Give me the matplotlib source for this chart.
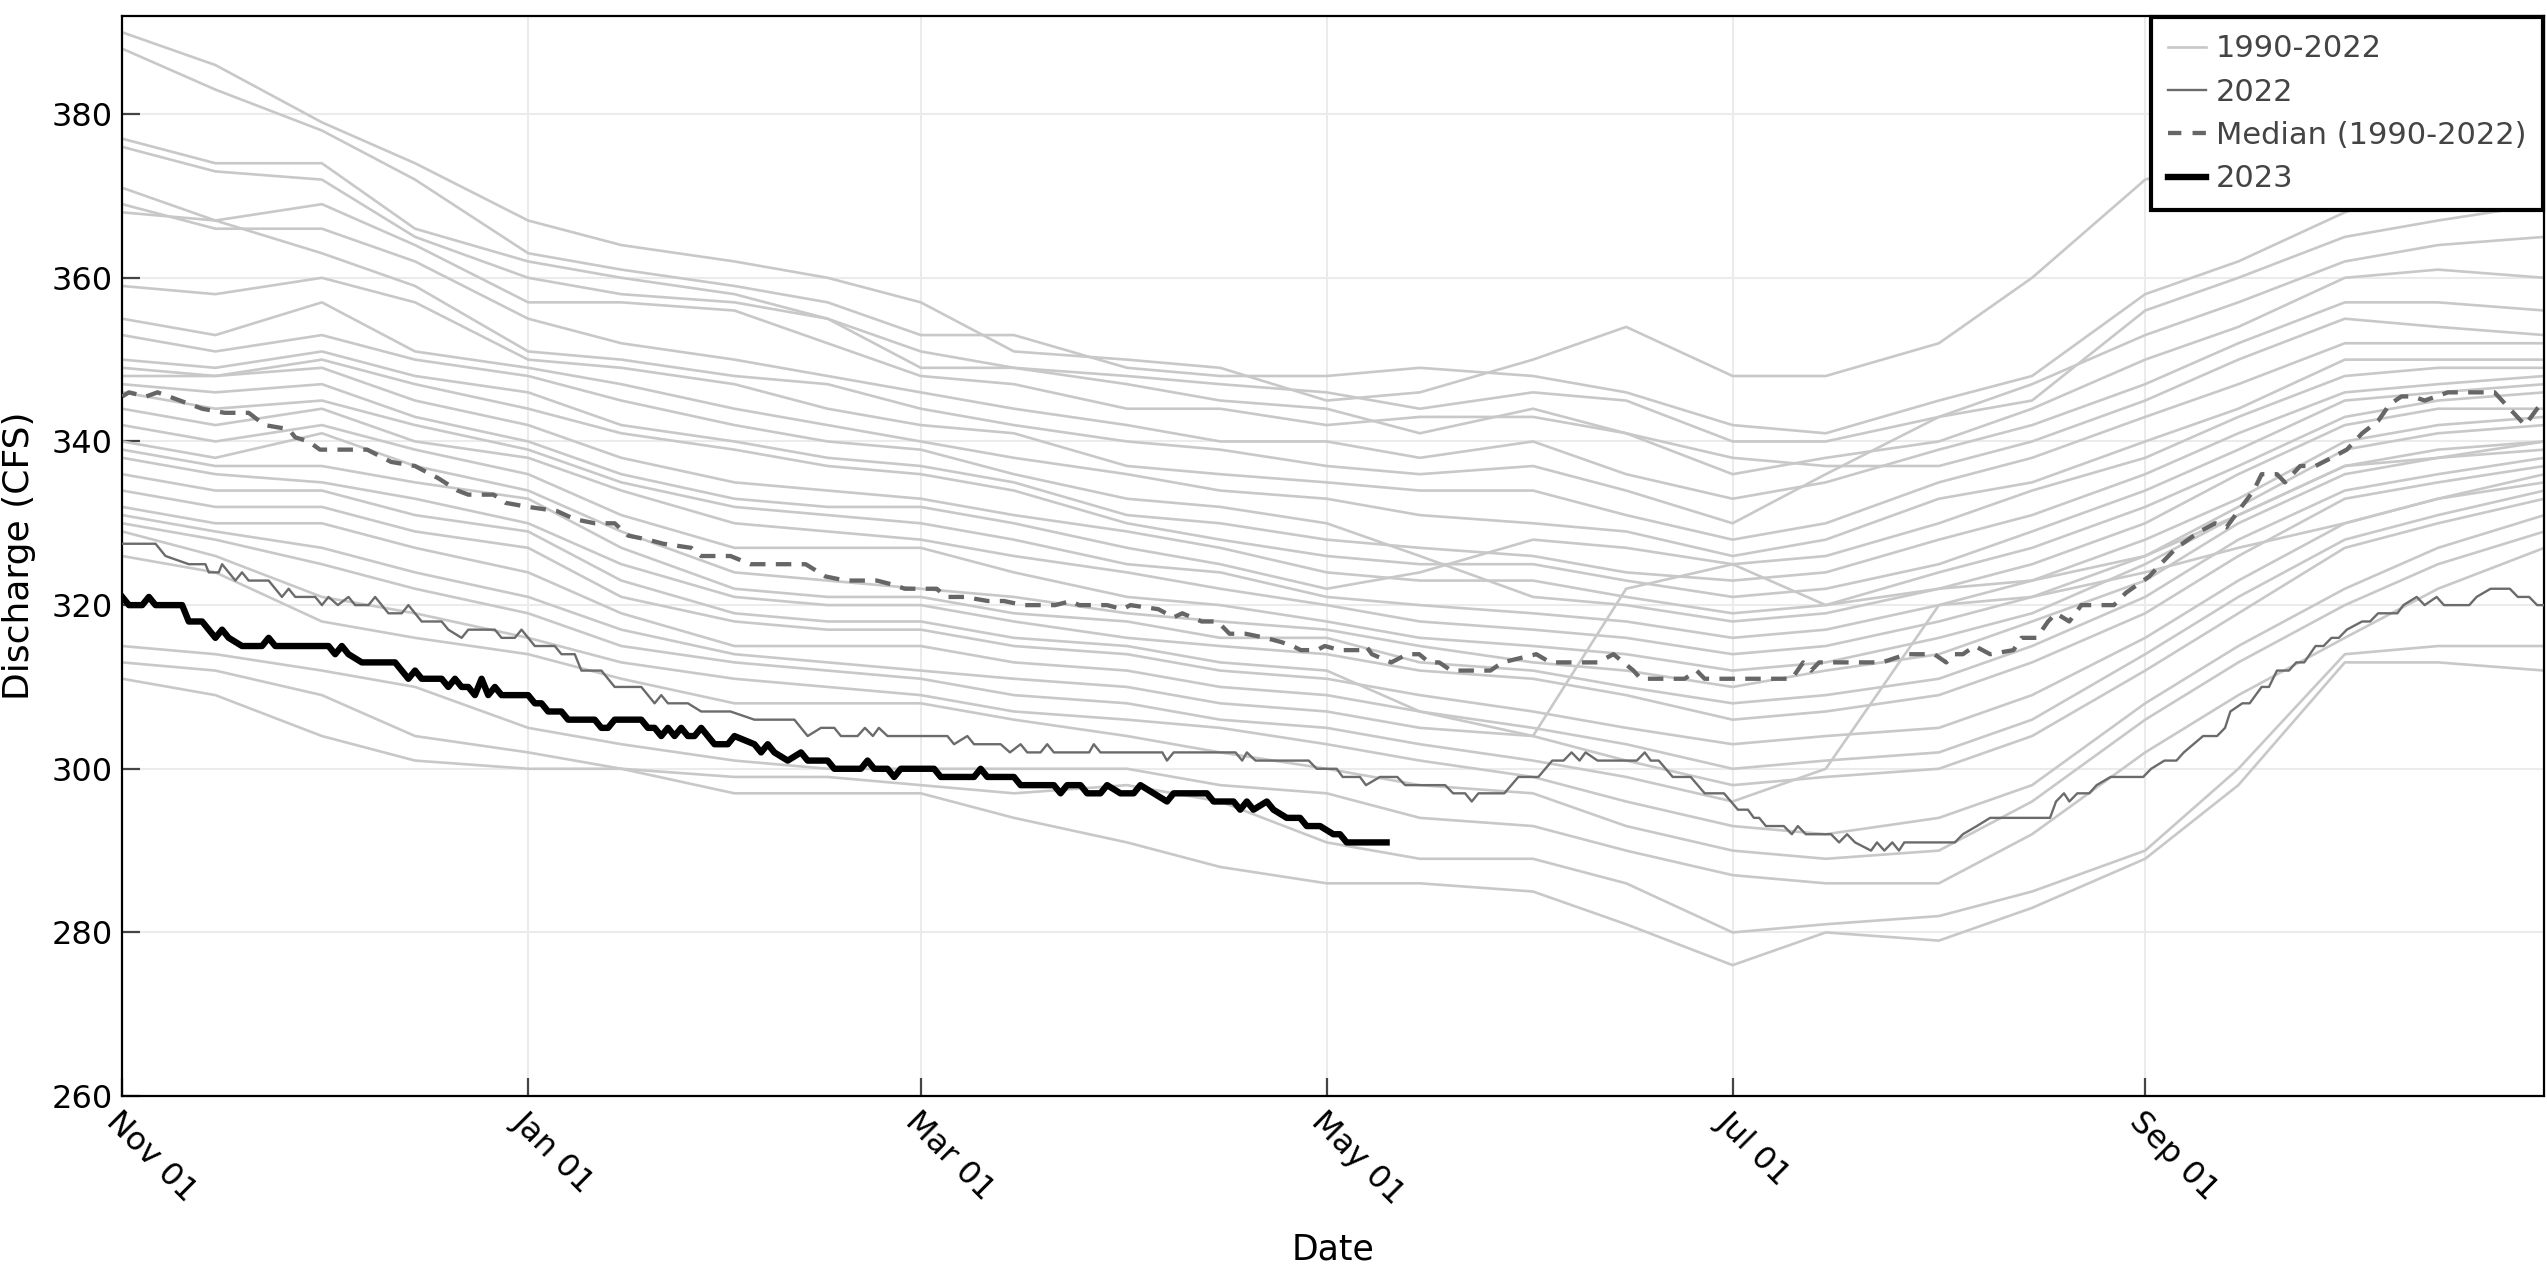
import numpy as np
import matplotlib
matplotlib.use("Agg")
import matplotlib.pyplot as plt
import matplotlib.dates as mdates
from matplotlib.lines import Line2D
from datetime import datetime

start = datetime(2022, 11, 1)

# knot dates for the historical traces (1st and 15th of each month of the water year)
knot_dates = ['2022-11-01', '2022-11-15', '2022-12-01', '2022-12-15', '2023-01-01',
              '2023-01-15', '2023-02-01', '2023-02-15', '2023-03-01', '2023-03-15',
              '2023-04-01', '2023-04-15', '2023-05-01', '2023-05-15', '2023-06-01',
              '2023-06-15', '2023-07-01', '2023-07-15', '2023-08-01', '2023-08-15',
              '2023-09-01', '2023-09-15', '2023-10-01', '2023-10-15', '2023-10-31']

# historical years 1990-2022, discharge read at each knot date
hist_01 = [390, 386, 379, 374, 367, 364, 362, 360, 357, 351, 350, 349, 345, 346, 350, 354, 348, 348, 352, 360, 372, 375, 378, 382, 385]
hist_02 = [388, 383, 378, 372, 363, 361, 359, 357, 353, 353, 349, 348, 348, 349, 348, 346, 342, 341, 345, 348, 358, 362, 368, 372, 375]
hist_03 = [377, 374, 374, 366, 362, 360, 358, 355, 351, 349, 348, 347, 346, 344, 346, 345, 340, 340, 343, 345, 356, 360, 365, 367, 369]
hist_04 = [376, 373, 372, 365, 360, 358, 357, 355, 349, 349, 347, 345, 344, 341, 344, 341, 338, 337, 337, 340, 345, 350, 355, 354, 353]
hist_05 = [371, 367, 369, 364, 357, 357, 356, 352, 348, 347, 344, 344, 342, 343, 343, 341, 336, 338, 340, 344, 350, 354, 360, 361, 360]
hist_06 = [369, 366, 366, 362, 355, 352, 350, 348, 346, 344, 342, 340, 340, 338, 340, 336, 333, 335, 339, 342, 347, 352, 357, 357, 356]
hist_07 = [368, 367, 363, 359, 351, 350, 348, 347, 344, 342, 340, 339, 337, 336, 337, 334, 330, 336, 343, 347, 353, 357, 362, 364, 365]
hist_08 = [359, 358, 360, 357, 350, 349, 347, 344, 342, 341, 337, 336, 335, 334, 334, 331, 328, 330, 335, 338, 343, 347, 352, 352, 352]
hist_09 = [355, 353, 357, 351, 349, 347, 344, 342, 340, 338, 336, 334, 333, 331, 330, 329, 326, 328, 333, 335, 340, 344, 350, 350, 350]
hist_10 = [353, 351, 353, 350, 348, 345, 342, 340, 339, 336, 333, 332, 330, 326, 321, 320, 318, 319, 322, 325, 330, 336, 342, 344, 344]
hist_11 = [350, 349, 351, 348, 346, 342, 340, 338, 337, 335, 331, 330, 328, 327, 326, 324, 323, 324, 328, 331, 336, 341, 346, 347, 348]
hist_12 = [349, 348, 350, 347, 344, 341, 339, 337, 336, 334, 330, 328, 326, 325, 325, 323, 321, 322, 325, 329, 334, 339, 345, 346, 347]
hist_13 = [348, 348, 349, 345, 342, 338, 335, 334, 333, 331, 329, 327, 324, 323, 323, 321, 319, 320, 324, 327, 332, 337, 343, 345, 346]
hist_14 = [347, 346, 347, 343, 340, 336, 333, 332, 332, 330, 327, 325, 322, 324, 328, 327, 325, 326, 330, 334, 338, 343, 348, 349, 349]
hist_15 = [346, 344, 345, 342, 339, 335, 332, 331, 330, 328, 325, 324, 321, 320, 319, 318, 316, 317, 320, 323, 328, 333, 340, 342, 343]
hist_16 = [344, 342, 344, 340, 338, 334, 330, 329, 328, 326, 324, 322, 320, 318, 317, 316, 314, 315, 318, 321, 326, 332, 339, 341, 342]
hist_17 = [342, 340, 342, 339, 336, 331, 327, 327, 327, 324, 321, 320, 318, 316, 315, 314, 312, 313, 316, 319, 325, 331, 337, 339, 340]
hist_18 = [340, 338, 341, 337, 334, 329, 324, 323, 322, 321, 319, 318, 317, 315, 313, 312, 310, 312, 314, 318, 323, 330, 336, 338, 339]
hist_19 = [339, 337, 337, 335, 333, 327, 322, 321, 321, 319, 318, 316, 316, 313, 312, 310, 308, 309, 311, 315, 321, 328, 334, 336, 338]
hist_20 = [338, 336, 335, 333, 330, 325, 321, 320, 320, 318, 316, 315, 314, 312, 311, 309, 306, 307, 309, 313, 319, 326, 333, 335, 337]
hist_21 = [336, 334, 334, 331, 329, 323, 319, 318, 318, 316, 315, 313, 312, 307, 304, 322, 325, 320, 322, 323, 326, 331, 337, 338, 340]
hist_22 = [334, 332, 332, 329, 327, 321, 318, 317, 317, 315, 314, 312, 311, 309, 307, 305, 303, 304, 305, 309, 316, 323, 330, 333, 335]
hist_23 = [332, 330, 330, 327, 324, 319, 315, 315, 315, 313, 312, 310, 309, 307, 305, 303, 300, 301, 302, 306, 314, 321, 328, 331, 334]
hist_24 = [331, 329, 327, 324, 321, 317, 314, 313, 312, 311, 310, 308, 307, 305, 304, 301, 298, 299, 300, 304, 312, 319, 327, 330, 333]
hist_25 = [330, 328, 325, 322, 319, 315, 313, 312, 311, 309, 308, 306, 305, 303, 301, 299, 296, 300, 320, 321, 324, 327, 330, 333, 336]
hist_26 = [329, 326, 321, 319, 316, 313, 311, 310, 309, 307, 306, 305, 303, 301, 299, 296, 293, 292, 294, 298, 308, 315, 322, 327, 331]
hist_27 = [326, 324, 318, 316, 314, 311, 308, 308, 308, 306, 304, 302, 300, 298, 297, 293, 290, 289, 290, 296, 306, 313, 320, 325, 329]
hist_28 = [315, 314, 312, 310, 305, 303, 301, 300, 300, 300, 300, 298, 297, 294, 293, 290, 287, 286, 286, 292, 302, 309, 316, 322, 327]
hist_29 = [313, 312, 309, 304, 302, 300, 299, 299, 298, 297, 298, 296, 291, 289, 289, 286, 280, 281, 282, 285, 290, 300, 314, 315, 315]
hist_30 = [311, 309, 304, 301, 300, 300, 297, 297, 297, 294, 291, 288, 286, 286, 285, 281, 276, 280, 279, 283, 289, 298, 313, 313, 312]

# water year 2022 (days after Nov 01)
days_2022 = [0, 5, 6.5, 10, 12.5, 13, 14.5, 15, 17, 18, 19, 22, 24, 25, 26, 29, 30, 31, 32.4,
             34, 35, 37, 38, 40, 42, 43, 45, 48, 49, 51, 52, 56, 57, 59, 60, 62, 65, 66, 68,
             69, 72, 74, 78, 80, 81, 82, 85, 87, 91.4, 95, 101, 103, 105, 107, 108, 110.5,
             111.6, 112.8, 113.7, 115, 124, 125, 127, 128, 132, 133.4, 135, 136, 138, 139,
             140, 145.3, 146, 147, 156.3, 157, 158, 167.3, 168.3, 169, 170.3, 178.3, 179.5,
             182.5, 183.4, 186, 186.9, 189, 191.6, 192.8, 198.8, 200, 201.8, 202.8, 203.8,
             207.7, 209.8, 212.8, 214.9, 216.6, 217.8, 219, 219.9, 221.7, 227.6, 228.8,
             229.7, 230.9, 233, 235.7, 237.8, 240.7, 242.8, 244.3, 245.2, 246, 247, 249.7,
             250.9, 251.8, 253, 256.8, 258, 259.2, 260.4, 262.8, 263.7, 264.8, 266, 267,
             267.8, 275.4, 276.6, 278.7, 280.7, 289.7, 290.6, 291.8, 292.6, 293.8, 295.6,
             296.7, 298.8, 303.7, 304.9, 306.9, 308.7, 309.8, 312.7, 314.8, 316, 316.8,
             318.6, 319.7, 321.5, 322.6, 323.8, 325.6, 326.7, 327.9, 329.6, 330.8, 332,
             333.1, 334.3, 336.6, 337.8, 339, 341.9, 342.8, 344.8, 346, 347.8, 348.9,
             352.7, 353.8, 355.9, 358.8, 360, 361.7, 362.9, 364, 364.9]
q_2022 = [327.5, 327.5, 326, 325, 325, 324, 324, 325, 323, 324, 323, 323, 321, 322, 321, 321,
          320, 321, 320, 321, 320, 320, 321, 319, 319, 320, 318, 318, 317, 316, 317, 317,
          316, 316, 317, 315, 315, 314, 314, 312, 312, 310, 310, 308, 309, 308, 308, 307,
          307, 306, 306, 304, 305, 305, 304, 304, 305, 304, 305, 304, 304, 303, 304, 303,
          303, 302, 303, 302, 302, 303, 302, 302, 303, 302, 302, 301, 302, 302, 301, 302,
          301, 301, 300, 300, 299, 299, 298, 299, 299, 298, 298, 297, 297, 296, 297, 297,
          299, 299, 301, 301, 302, 301, 302, 301, 301, 302, 301, 301, 299, 299, 297, 297,
          295, 295, 294, 294, 293, 293, 292, 293, 292, 292, 291, 292, 291, 290, 291, 290,
          291, 290, 291, 291, 292, 293, 294, 294, 296, 297, 296, 297, 297, 298, 299, 299,
          300, 301, 301, 302, 304, 304, 305, 307, 308, 308, 310, 310, 312, 312, 313, 313,
          315, 315, 316, 316, 317, 318, 318, 319, 319, 320, 321, 320, 321, 320, 320, 321,
          322, 322, 321, 321, 320, 320, 321]

# median of 1990-2022
days_med = [0, 1, 3.6, 5.3, 7, 12, 15.4, 19, 21.4, 25, 26, 28, 29.7, 36.8, 40.4, 44, 47.5,
            50.4, 52, 55.8, 57.6, 61, 65.3, 68, 71, 74, 76, 79, 81.3, 85.5, 87, 91.4, 94.4,
            102.7, 105.7, 108.7, 113.4, 115.8, 117.6, 122.4, 123.8, 126.5, 130.1, 132.5,
            135.4, 140.2, 142.6, 143.8, 148, 150.3, 151.5, 155.7, 158, 159.3, 162.2, 164.6,
            166.4, 168.8, 171.8, 174.1, 175.9, 177.1, 179.5, 180.7, 183, 186, 186.9, 187.8,
            190.7, 193.1, 194.9, 196.4, 197.9, 199.7, 205.6, 207.4, 212.5, 214.6, 221.7,
            224.1, 225.6, 227.1, 228.2, 234.8, 236.6, 237.8, 250.9, 252.6, 253.8, 255,
            264.5, 268.1, 272.3, 274.1, 275.3, 276.6, 278.4, 280.7, 284.2, 285.4, 287.7,
            289.4, 290.6, 292.6, 294.4, 299.3, 301.1, 304.6, 306.3, 308.7, 312.2, 314.5,
            316.2, 318, 320.3, 321.5, 323.8, 325, 327.3, 329.6, 332, 334.3, 336.6, 339,
            340.7, 342.5, 344.2, 346, 349.5, 356.5, 358.2, 360.5, 361.1, 362.9, 364.6]
q_med = [345.5, 346, 345.5, 346, 345.5, 344, 343.5, 343.5, 342, 341.5, 340.5, 340, 339, 339,
         337.5, 337, 335.5, 334, 333.5, 333.5, 332.5, 332, 331.5, 330.5, 330, 330, 328.5,
         328, 327.5, 327, 326, 326, 325, 325, 323.5, 323, 323, 322.5, 322, 322, 321, 321,
         320.5, 320.5, 320, 320, 320.5, 320, 320, 319.5, 320, 319.5, 318.5, 319, 318, 318,
         316.5, 316.5, 316, 315.5, 315, 314.5, 314.5, 315, 314.5, 314.5, 315, 314, 313,
         314, 314, 313, 313, 312, 312, 313, 314, 313, 313, 314, 313, 312, 311, 311, 312,
         311, 311, 313, 312, 313, 313, 314, 314, 313, 314, 314, 315, 314, 314.5, 316, 316,
         318, 319, 318, 320, 320, 321.5, 323.5, 325, 327, 329, 330, 329.5, 331.5, 334, 336,
         336, 335, 337, 337, 338, 339, 341, 342.5, 344.5, 345.5, 345.5, 345, 346, 346,
         344.5, 342.5, 342, 344, 345.5]

# water year 2023 so far
days_2023 = [0, 1, 3, 4, 5, 9, 10, 12, 14, 15, 16, 18, 21, 22, 23, 31, 32, 33, 34, 36, 41,
             43, 44, 45, 48, 49, 50, 51, 52, 53, 54, 55, 56, 57, 61, 62, 63, 64, 66, 67, 71,
             72, 73, 74, 78, 79, 80, 81, 82, 83, 84, 85, 86, 87, 89, 91, 92, 95, 96, 97, 98,
             100, 102, 103, 106, 107, 111, 112, 113, 115, 116, 117, 122, 123, 128, 129, 130,
             134, 135, 140, 141, 142, 144, 145, 147, 148, 150, 152, 153, 155, 157, 158, 163,
             164, 167, 168, 169, 170, 172, 173, 175, 177, 178, 180, 182, 183, 184, 190]
q_2023 = [321, 320, 320, 321, 320, 320, 318, 318, 316, 317, 316, 315, 315, 316, 315, 315,
          314, 315, 314, 313, 313, 311, 312, 311, 311, 310, 311, 310, 310, 309, 311, 309,
          310, 309, 309, 308, 308, 307, 307, 306, 306, 305, 305, 306, 306, 305, 305, 304,
          305, 304, 305, 304, 304, 305, 303, 303, 304, 303, 302, 303, 302, 301, 302, 301,
          301, 300, 300, 301, 300, 300, 299, 300, 300, 299, 299, 300, 299, 299, 298, 298,
          297, 298, 298, 297, 297, 298, 297, 297, 298, 297, 296, 297, 297, 296, 296, 295,
          296, 295, 296, 295, 294, 294, 293, 293, 292, 292, 291, 291]

hist = [hist_01, hist_02, hist_03, hist_04, hist_05, hist_06, hist_07, hist_08, hist_09,
        hist_10, hist_11, hist_12, hist_13, hist_14, hist_15, hist_16, hist_17, hist_18,
        hist_19, hist_20, hist_21, hist_22, hist_23, hist_24, hist_25, hist_26, hist_27,
        hist_28, hist_29, hist_30]

x0 = mdates.date2num(start)
knot_x = mdates.datestr2num(knot_dates)

fig = plt.figure(figsize=(25.47, 12.76), dpi=100)
ax = fig.add_axes([0.048, 0.141, 0.951, 0.8465])

for q in hist:
    ax.plot(knot_x, q, color='#c8c8c8', lw=1.9, zorder=2)
ax.plot(x0 + np.array(days_2022), q_2022, color='#6b6b6b', lw=1.7, zorder=3)
ax.plot(x0 + np.array(days_med), q_med, color='#666666', lw=3.1,
        linestyle=(0, (3.6, 2.4)), zorder=4)
ax.plot(x0 + np.array(days_2023), q_2023, color='black', lw=4.6, zorder=5)

ax.set_xlim(x0, mdates.date2num(datetime(2023, 10, 31)))
ax.set_ylim(260, 392)
ax.set_yticks(np.arange(260, 381, 20))
ax.xaxis.set_major_locator(mdates.MonthLocator(bymonth=[11, 1, 3, 5, 7, 9]))
ax.xaxis.set_major_formatter(mdates.DateFormatter('%b %d'))

ax.grid(True, color='#ebebeb', lw=1.5, zorder=0)
ax.set_axisbelow(True)
ax.tick_params(direction='in', length=13, width=1.6, color='#444444',
               labelsize=23, pad=7)
for lab in ax.get_xticklabels():
    lab.set_rotation(-45)
    lab.set_ha('left')
    lab.set_va('top')
    lab.set_rotation_mode('anchor')
for s in ax.spines.values():
    s.set_color('black')
    s.set_linewidth(1.6)

ax.set_xlabel('Date', fontsize=25, labelpad=16)
ax.set_ylabel('Discharge (CFS)', fontsize=26, labelpad=11)

handles = [Line2D([], [], color='#c8c8c8', lw=1.9),
           Line2D([], [], color='#6b6b6b', lw=1.7),
           Line2D([], [], color='#666666', lw=3.1, linestyle=(0, (3.1, 2.6))),
           Line2D([], [], color='black', lw=4.6)]
leg = ax.legend(handles, ['1990-2022', '2022', 'Median (1990-2022)', '2023'],
                loc='upper right', fontsize=22, fancybox=False, framealpha=1,
                edgecolor='black', borderaxespad=0.05, handlelength=1.25,
                handletextpad=0.32, labelspacing=0.47, borderpad=0.55)
leg.get_frame().set_linewidth(3)
for t in leg.get_texts():
    t.set_color('#444444')

fig.savefig('out.png', dpi=100)
